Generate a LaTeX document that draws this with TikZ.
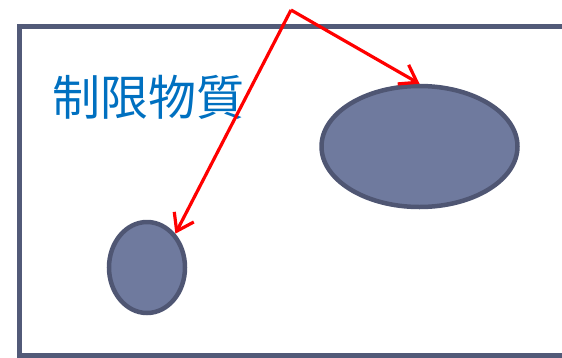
\documentclass[tikz,border=0pt]{standalone}
\usepackage{fontspec}
\newfontfamily\cjk{Noto Sans CJK JP}
\usetikzlibrary{shapes.geometric,arrows.meta}
\definecolor{framec}{HTML}{525A78}
\definecolor{ellfill}{HTML}{6F7A9E}
\definecolor{elledge}{HTML}{4F5673}
\definecolor{titleblue}{HTML}{0070C0}
\tikzset{
  blob/.style={ellipse, draw=elledge, fill=ellfill, line width=4.5pt, inner sep=0pt},
  pointer/.style={draw=red, line width=3.2pt, -{Straight Barb[length=16pt,width=22pt,line width=3.2pt]}},
}
\begin{document}
\begin{tikzpicture}[x=1pt,y=-1pt]
\useasboundingbox (0,0) rectangle (562,357);
\clip (0,0) rectangle (562,357);
\draw[framec, line width=5pt] (580,26) -- (19,26) -- (19,355) -- (580,355);
\node[text=titleblue, font=\cjk\fontsize{48}{48}\selectfont] (title) at (148,97) {制限物質};
\node[blob, minimum width=196pt, minimum height=121pt] (big) at (419.5,146.5) {};
\node[blob, minimum width=76pt, minimum height=91pt] (small) at (147,267.5) {};
\coordinate (apex) at (291,10);
\draw[pointer] (apex) -- (big.north);
\draw[pointer] (apex) -- (small.50);
\end{tikzpicture}
\end{document}
